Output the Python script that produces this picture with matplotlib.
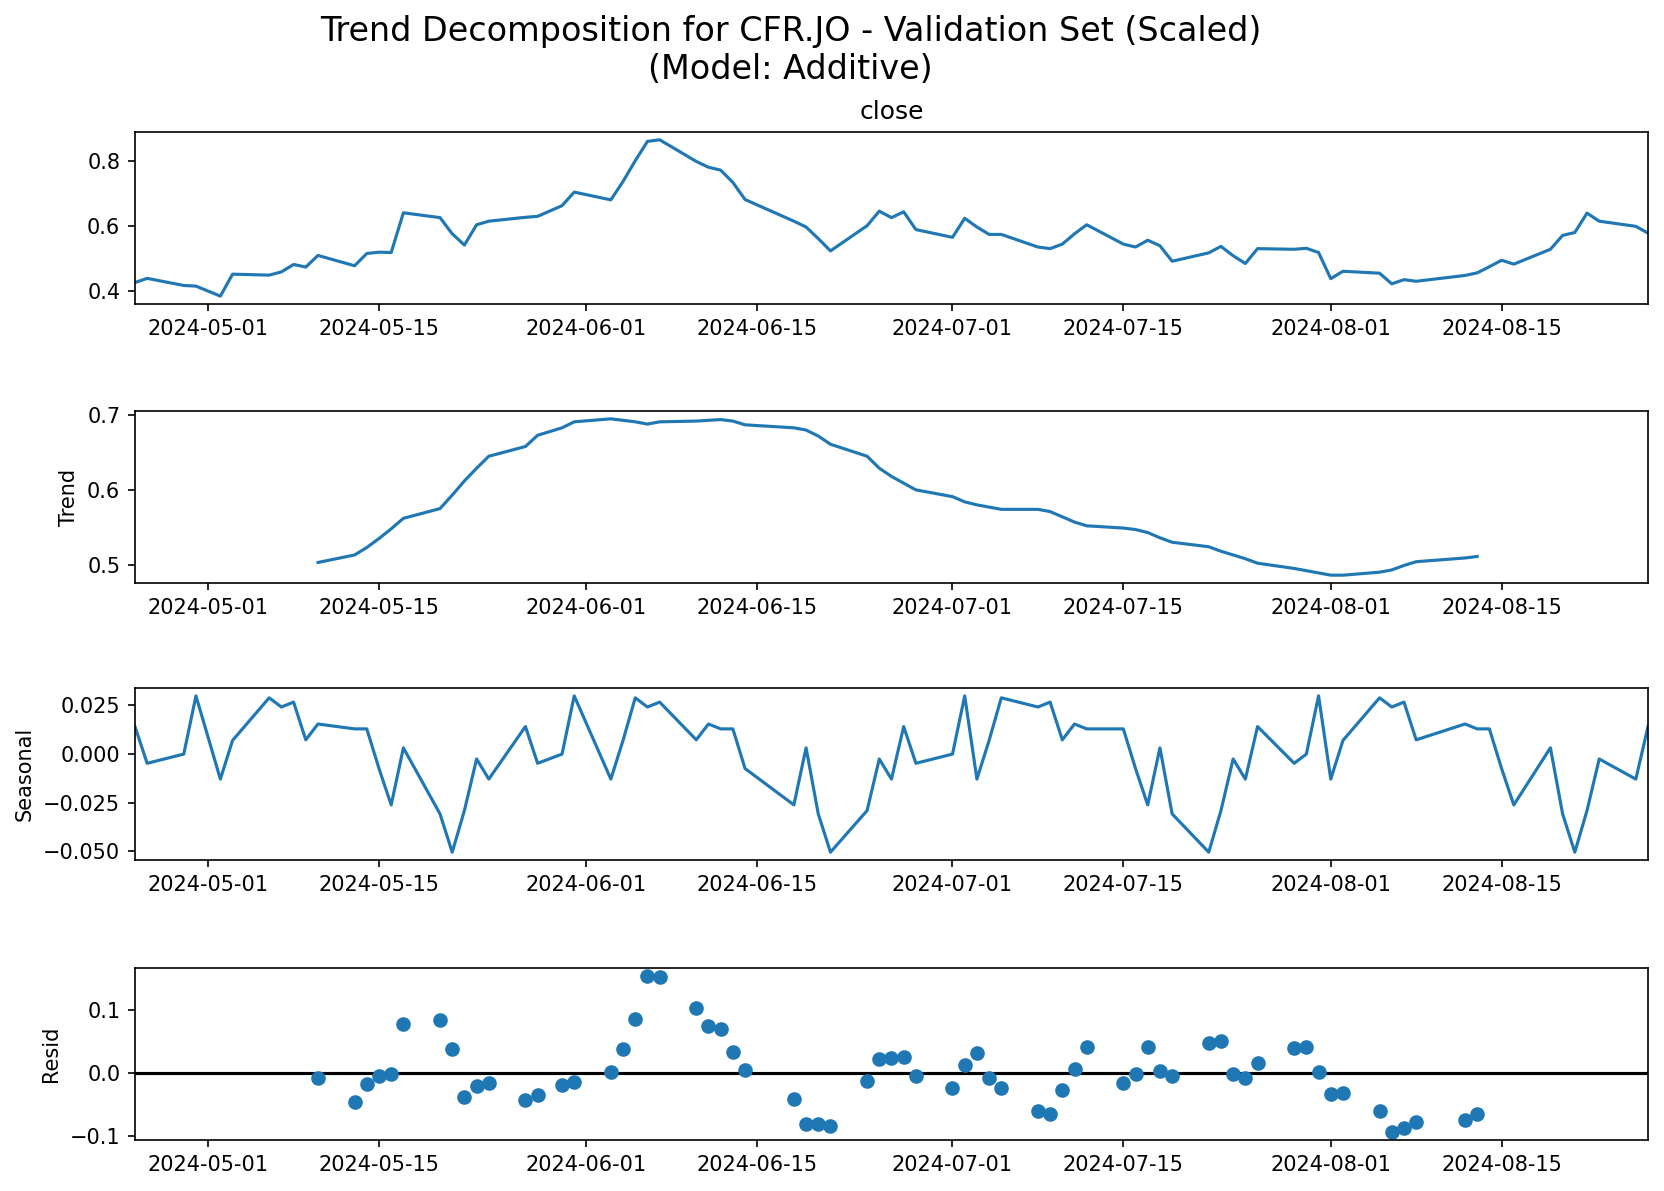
import matplotlib
matplotlib.use("Agg")
import matplotlib.pyplot as plt
import matplotlib.dates as mdates
import numpy as np
import pandas as pd

# JSE trading days, Apr 25 - Aug 27 2024 (public holidays removed)
HOLIDAYS = ["2024-05-01", "2024-05-29", "2024-06-17", "2024-08-09"]
dates = pd.bdate_range("2024-04-25", "2024-08-27")
dates = dates[~dates.isin(pd.to_datetime(HOLIDAYS))]

close = [
    0.425, 0.438, 0.416, 0.414, 0.383, 0.451, 0.448, 0.458, 0.481, 0.473,
    0.509, 0.477, 0.515, 0.519, 0.518, 0.641, 0.626, 0.576, 0.541, 0.604,
    0.615, 0.627, 0.630, 0.663, 0.705, 0.681, 0.738, 0.802, 0.862, 0.867,
    0.800, 0.782, 0.773, 0.735, 0.682, 0.615, 0.597, 0.561, 0.523, 0.601,
    0.646, 0.626, 0.644, 0.589, 0.565, 0.624, 0.597, 0.574, 0.574, 0.535,
    0.530, 0.544, 0.576, 0.604, 0.544, 0.535, 0.556, 0.539, 0.491, 0.517,
    0.537, 0.508, 0.484, 0.530, 0.528, 0.531, 0.518, 0.437, 0.460, 0.454,
    0.421, 0.434, 0.429, 0.447, 0.455, 0.474, 0.494, 0.482, 0.528, 0.571,
    0.580, 0.640, 0.615, 0.599, 0.578,
]

# trend / resid only exist for 2024-05-10 .. 2024-08-13 (10 NaN at each end)
trend_valid = [
    0.503, 0.513, 0.523, 0.535, 0.548, 0.562, 0.575, 0.593, 0.612, 0.629,
    0.645, 0.658, 0.673, 0.683, 0.691, 0.695, 0.693, 0.691, 0.688, 0.691,
    0.692, 0.693, 0.694, 0.692, 0.687, 0.683, 0.680, 0.672, 0.661, 0.645,
    0.629, 0.618, 0.609, 0.600, 0.591, 0.584, 0.580, 0.577, 0.574, 0.574,
    0.571, 0.564, 0.557, 0.552, 0.549, 0.547, 0.543, 0.536, 0.530, 0.524,
    0.518, 0.513, 0.508, 0.502, 0.495, 0.492, 0.489, 0.486, 0.486, 0.490,
    0.493, 0.499, 0.504, 0.509, 0.511,
]

seasonal = [
    0.0139, -0.0049, -0.0002, 0.0296, -0.0130, 0.0068, 0.0286, 0.0239, 0.0264, 0.0071, 0.0152,
    0.0127, 0.0127, -0.0076, -0.0262, 0.0030, -0.0308, -0.0504, -0.0291, -0.0027, -0.0130,
    0.0139, -0.0049, -0.0002, 0.0296, -0.0130, 0.0068, 0.0286, 0.0239, 0.0264, 0.0071, 0.0152,
    0.0127, 0.0127, -0.0076, -0.0262, 0.0030, -0.0308, -0.0504, -0.0291, -0.0027, -0.0130,
    0.0139, -0.0049, -0.0002, 0.0296, -0.0130, 0.0068, 0.0286, 0.0239, 0.0264, 0.0071, 0.0152,
    0.0127, 0.0127, -0.0076, -0.0262, 0.0030, -0.0308, -0.0504, -0.0291, -0.0027, -0.0130,
    0.0139, -0.0049, -0.0002, 0.0296, -0.0130, 0.0068, 0.0286, 0.0239, 0.0264, 0.0071, 0.0152,
    0.0127, 0.0127, -0.0076, -0.0262, 0.0030, -0.0308, -0.0504, -0.0291, -0.0027, -0.0130,
    0.0139,
]

resid_valid = [
    -0.0078, -0.0466, -0.0183, -0.0042, -0.0016, 0.0785, 0.0848, 0.0377, -0.0387, -0.0204,
    -0.0157, -0.0424, -0.0356, -0.0188, -0.0147, 0.0021, 0.0377, 0.0863, 0.1544, 0.1523,
    0.1036, 0.0754, 0.0706, 0.0330, 0.0052, -0.0408, -0.0816, -0.0806, -0.0848, -0.0126,
    0.0220, 0.0235, 0.0251, -0.0047, -0.0235, 0.0131, 0.0314, -0.0078, -0.0246, -0.0607,
    -0.0654, -0.0267, 0.0063, 0.0408, -0.0157, -0.0016, 0.0408, 0.0037, -0.0042, 0.0476,
    0.0502, -0.0010, -0.0073, 0.0157, 0.0392, 0.0408, 0.0016, -0.0340, -0.0314, -0.0612,
    -0.0942, -0.0874, -0.0785, -0.0754, -0.0654,
]

pad = [np.nan] * 10
trend = pad + trend_valid + pad
resid = pad + resid_valid + pad

DPI = 150
fig = plt.figure(figsize=(1664 / DPI, 1191 / DPI), dpi=DPI)

L, W, H = 0.0811, 0.9093, 0.1444
bottoms = [0.7448, 0.5105, 0.2779, 0.0428]
axes = [fig.add_axes([L, b, W, H]) for b in bottoms]

axes[0].plot(dates, close)
axes[0].set_title("close")
axes[1].plot(dates, trend)
axes[1].set_ylabel("Trend")
axes[2].plot(dates, seasonal)
axes[2].set_ylabel("Seasonal")
axes[3].plot(dates, resid, marker="o", linestyle="none")
axes[3].set_ylabel("Resid")

xlim = (dates[0], dates[-1])
axes[3].plot(xlim, (0, 0), color="#000000", zorder=-3)

for ax in axes:
    ax.set_xlim(xlim)
    ax.xaxis.set_major_locator(mdates.DayLocator(bymonthday=[1, 15]))
    ax.xaxis.set_major_formatter(mdates.DateFormatter("%Y-%m-%d"))

fig.suptitle("Trend Decomposition for CFR.JO - Validation Set (Scaled)\n(Model: Additive)",
             fontsize=16, x=0.475, y=0.9875)

fig.savefig("out.png", dpi=DPI)
